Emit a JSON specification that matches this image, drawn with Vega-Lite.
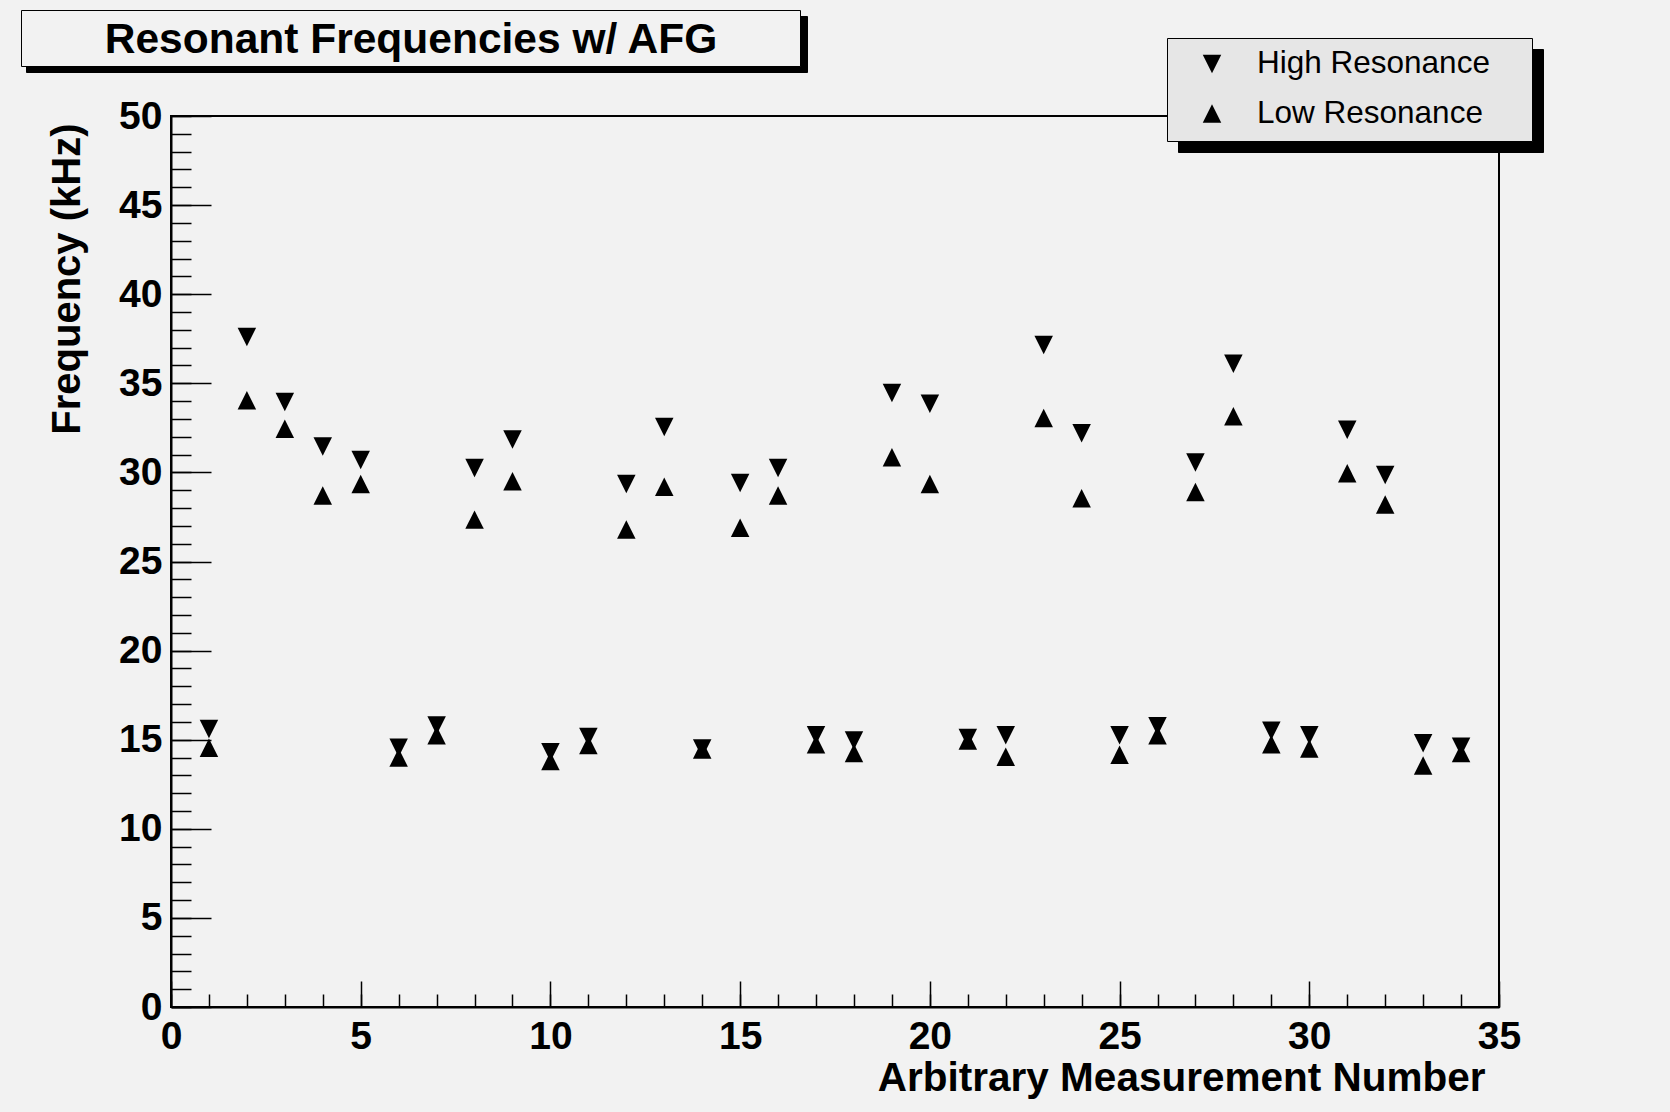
{
  "$schema": "https://vega.github.io/schema/vega-lite/v6.json",
  "width": 1328,
  "height": 891,
  "autosize": {"type": "none"},
  "padding": {"left": 171, "top": 116, "right": 171, "bottom": 105},
  "background": "#f2f2f2",
  "config": {
    "font": "Liberation Sans",
    "view": {"stroke": "black", "strokeWidth": 2, "fill": "#f2f2f2"}
  },
  "data": {
    "values": [
      {"n": 1, "series": "High Resonance", "freq": 15.6}, {"n": 1, "series": "Low Resonance", "freq": 14.55},
      {"n": 2, "series": "High Resonance", "freq": 37.6}, {"n": 2, "series": "Low Resonance", "freq": 34.05},
      {"n": 3, "series": "High Resonance", "freq": 33.95}, {"n": 3, "series": "Low Resonance", "freq": 32.45},
      {"n": 4, "series": "High Resonance", "freq": 31.45}, {"n": 4, "series": "Low Resonance", "freq": 28.7},
      {"n": 5, "series": "High Resonance", "freq": 30.7}, {"n": 5, "series": "Low Resonance", "freq": 29.35},
      {"n": 6, "series": "High Resonance", "freq": 14.55}, {"n": 6, "series": "Low Resonance", "freq": 14.0},
      {"n": 7, "series": "High Resonance", "freq": 15.8}, {"n": 7, "series": "Low Resonance", "freq": 15.25},
      {"n": 8, "series": "High Resonance", "freq": 30.25}, {"n": 8, "series": "Low Resonance", "freq": 27.35},
      {"n": 9, "series": "High Resonance", "freq": 31.85}, {"n": 9, "series": "Low Resonance", "freq": 29.5},
      {"n": 10, "series": "High Resonance", "freq": 14.3}, {"n": 10, "series": "Low Resonance", "freq": 13.8},
      {"n": 11, "series": "High Resonance", "freq": 15.15}, {"n": 11, "series": "Low Resonance", "freq": 14.7},
      {"n": 12, "series": "High Resonance", "freq": 29.35}, {"n": 12, "series": "Low Resonance", "freq": 26.8},
      {"n": 13, "series": "High Resonance", "freq": 32.55}, {"n": 13, "series": "Low Resonance", "freq": 29.2},
      {"n": 14, "series": "High Resonance", "freq": 14.5}, {"n": 14, "series": "Low Resonance", "freq": 14.45},
      {"n": 15, "series": "High Resonance", "freq": 29.4}, {"n": 15, "series": "Low Resonance", "freq": 26.9},
      {"n": 16, "series": "High Resonance", "freq": 30.25}, {"n": 16, "series": "Low Resonance", "freq": 28.7},
      {"n": 17, "series": "High Resonance", "freq": 15.25}, {"n": 17, "series": "Low Resonance", "freq": 14.75},
      {"n": 18, "series": "High Resonance", "freq": 14.95}, {"n": 18, "series": "Low Resonance", "freq": 14.25},
      {"n": 19, "series": "High Resonance", "freq": 34.45}, {"n": 19, "series": "Low Resonance", "freq": 30.85},
      {"n": 20, "series": "High Resonance", "freq": 33.85}, {"n": 20, "series": "Low Resonance", "freq": 29.35},
      {"n": 21, "series": "High Resonance", "freq": 15.1}, {"n": 21, "series": "Low Resonance", "freq": 14.95},
      {"n": 22, "series": "High Resonance", "freq": 15.25}, {"n": 22, "series": "Low Resonance", "freq": 14.05},
      {"n": 23, "series": "High Resonance", "freq": 37.15}, {"n": 23, "series": "Low Resonance", "freq": 33.05},
      {"n": 24, "series": "High Resonance", "freq": 32.2}, {"n": 24, "series": "Low Resonance", "freq": 28.55},
      {"n": 25, "series": "High Resonance", "freq": 15.25}, {"n": 25, "series": "Low Resonance", "freq": 14.15},
      {"n": 26, "series": "High Resonance", "freq": 15.75}, {"n": 26, "series": "Low Resonance", "freq": 15.25},
      {"n": 27, "series": "High Resonance", "freq": 30.55}, {"n": 27, "series": "Low Resonance", "freq": 28.9},
      {"n": 28, "series": "High Resonance", "freq": 36.1}, {"n": 28, "series": "Low Resonance", "freq": 33.15},
      {"n": 29, "series": "High Resonance", "freq": 15.5}, {"n": 29, "series": "Low Resonance", "freq": 14.75},
      {"n": 30, "series": "High Resonance", "freq": 15.25}, {"n": 30, "series": "Low Resonance", "freq": 14.5},
      {"n": 31, "series": "High Resonance", "freq": 32.4}, {"n": 31, "series": "Low Resonance", "freq": 29.95},
      {"n": 32, "series": "High Resonance", "freq": 29.85}, {"n": 32, "series": "Low Resonance", "freq": 28.2},
      {"n": 33, "series": "High Resonance", "freq": 14.8}, {"n": 33, "series": "Low Resonance", "freq": 13.55},
      {"n": 34, "series": "High Resonance", "freq": 14.6}, {"n": 34, "series": "Low Resonance", "freq": 14.25}
    ]
  },
  "layer": [
    {
      "mark": {"type": "point", "filled": true, "opacity": 0},
      "encoding": {
        "x": {
          "field": "n", "type": "quantitative",
          "scale": {"domain": [0, 35], "nice": false, "zero": false},
          "axis": {
            "orient": "bottom",
            "values": [0,1,2,3,4,5,6,7,8,9,10,11,12,13,14,15,16,17,18,19,20,21,22,23,24,25,26,27,28,29,30,31,32,33,34,35],
            "tickSize": -13, "tickWidth": 1.5, "tickColor": "black",
            "labels": false, "domain": false, "grid": false, "title": null
          }
        },
        "y": {
          "field": "freq", "type": "quantitative",
          "scale": {"domain": [0, 50], "nice": false, "zero": false},
          "axis": {
            "orient": "left",
            "values": [0,1,2,3,4,5,6,7,8,9,10,11,12,13,14,15,16,17,18,19,20,21,22,23,24,25,26,27,28,29,30,31,32,33,34,35,36,37,38,39,40,41,42,43,44,45,46,47,48,49,50],
            "tickSize": -20, "tickWidth": 1.5, "tickColor": "black",
            "labels": false, "domain": false, "grid": false, "title": null
          }
        },
        "shape": {
          "datum": "Resonant Frequencies w/ AFG", "type": "nominal",
          "legend": {
            "title": null, "orient": "none", "direction": "vertical",
            "legendX": -145, "legendY": -100,
            "fillColor": "black", "strokeColor": "black", "padding": 4,
            "labelExpr": "''", "labelFontSize": 1,
            "symbolSize": 2209, "symbolOpacity": 0, "symbolOffset": 720
          }
        }
      }
    },
    {
      "mark": {"type": "point", "filled": true, "opacity": 0},
      "encoding": {
        "x": {"field": "n", "type": "quantitative", "scale": {"domain": [0, 35], "nice": false, "zero": false}, "axis": null},
        "y": {"field": "freq", "type": "quantitative", "scale": {"domain": [0, 50], "nice": false, "zero": false}, "axis": null},
        "shape": {
          "datum": "Resonant Frequencies w/ AFG", "type": "nominal",
          "legend": {
            "title": "Resonant Frequencies w/ AFG",
            "titleOrient": "bottom", "titleAnchor": "middle", "titlePadding": 0, "titleLimit": 2000,
            "titleFont": "Liberation Sans", "titleFontWeight": "bold", "titleFontSize": 42.5, "titleColor": "black",
            "orient": "none", "direction": "vertical",
            "legendX": -150, "legendY": -106,
            "fillColor": "#f2f2f2", "strokeColor": "black", "padding": 4,
            "labelExpr": "''", "labelFontSize": 1,
            "symbolSize": 16, "symbolOpacity": 0, "symbolOffset": 761
          }
        }
      }
    },
    {
      "mark": {"type": "point", "filled": true, "opacity": 0},
      "encoding": {
        "x": {"field": "n", "type": "quantitative", "scale": {"domain": [0, 35], "nice": false, "zero": false}, "axis": null},
        "y": {"field": "freq", "type": "quantitative", "scale": {"domain": [0, 50], "nice": false, "zero": false}, "axis": null},
        "shape": {
          "field": "series", "type": "nominal",
          "scale": {"domain": ["High Resonance", "Low Resonance"], "range": ["M-1,-1L1,-1L0,1Z", "M-1,1L1,1L0,-1Z"]},
          "legend": {
            "title": null, "orient": "none", "direction": "vertical",
            "legendX": 1007, "legendY": -67,
            "fillColor": "black", "strokeColor": "black", "padding": 9.25, "rowPadding": 18.5,
            "labelExpr": "''", "labelFontSize": 1,
            "symbolSize": 992, "symbolOpacity": 0, "symbolOffset": 309
          }
        }
      }
    },
    {
      "mark": {"type": "point", "filled": true, "opacity": 0},
      "encoding": {
        "x": {"field": "n", "type": "quantitative", "scale": {"domain": [0, 35], "nice": false, "zero": false}, "axis": null},
        "y": {"field": "freq", "type": "quantitative", "scale": {"domain": [0, 50], "nice": false, "zero": false}, "axis": null},
        "shape": {
          "field": "series", "type": "nominal",
          "scale": {"domain": ["High Resonance", "Low Resonance"], "range": ["M-1,-1L1,-1L0,1Z", "M-1,1L1,1L0,-1Z"]},
          "legend": {
            "title": null, "orient": "none", "direction": "vertical",
            "legendX": 996, "legendY": -78,
            "fillColor": "#e6e6e6", "strokeColor": "black", "padding": 9.25, "rowPadding": 18.5,
            "labelExpr": "''", "labelFontSize": 1,
            "symbolSize": 992, "symbolOpacity": 0, "symbolOffset": 309
          }
        }
      }
    },
    {
      "mark": {"type": "point", "filled": true, "color": "black", "opacity": 1, "size": 342, "strokeWidth": 0},
      "encoding": {
        "x": {
          "field": "n", "type": "quantitative",
          "scale": {"domain": [0, 35], "nice": false, "zero": false},
          "axis": {
            "orient": "bottom",
            "values": [0, 5, 10, 15, 20, 25, 30, 35],
            "tickSize": -26, "tickWidth": 1.5, "tickColor": "black",
            "domain": true, "domainColor": "black", "domainWidth": 2, "grid": false,
            "labelFont": "Liberation Sans", "labelFontWeight": "bold", "labelFontSize": 39,
            "labelColor": "black", "labelPadding": 36, "labelFlush": false, "labelOverlap": false, "labelBound": false,
            "title": "Arbitrary Measurement Number",
            "titleFont": "Liberation Sans", "titleFontWeight": "bold", "titleFontSize": 40.5, "titleColor": "black",
            "titleX": 1314, "titleY": 83, "titleAlign": "right", "titleBaseline": "alphabetic", "titleAngle": 0
          }
        },
        "y": {
          "field": "freq", "type": "quantitative",
          "scale": {"domain": [0, 50], "nice": false, "zero": false},
          "axis": {
            "orient": "left",
            "values": [0, 5, 10, 15, 20, 25, 30, 35, 40, 45, 50],
            "tickSize": -40, "tickWidth": 1.5, "tickColor": "black",
            "domain": true, "domainColor": "black", "domainWidth": 2, "grid": false,
            "labelFont": "Liberation Sans", "labelFontWeight": "bold", "labelFontSize": 39,
            "labelColor": "black", "labelPadding": 49, "labelFlush": false, "labelOverlap": false, "labelBound": false,
            "title": "Frequency (kHz)",
            "titleFont": "Liberation Sans", "titleFontWeight": "bold", "titleFontSize": 40, "titleColor": "black",
            "titleX": -92, "titleY": 7, "titleAlign": "right", "titleBaseline": "alphabetic", "titleAngle": 270
          }
        },
        "shape": {
          "field": "series", "type": "nominal",
          "scale": {"domain": ["High Resonance", "Low Resonance"], "range": ["M-1,-1L1,-1L0,1Z", "M-1,1L1,1L0,-1Z"]},
          "legend": {
            "title": null, "orient": "none", "direction": "vertical",
            "legendX": 996, "legendY": -78,
            "padding": 10.25, "rowPadding": 16.5,
            "labelFont": "Liberation Sans", "labelFontSize": 31.5, "labelColor": "black",
            "labelOffset": 29.25, "labelLimit": 2000,
            "symbolSize": 342, "symbolOpacity": 1, "symbolFillColor": "black", "symbolStrokeWidth": 0, "symbolOffset": 19
          }
        }
      }
    }
  ],
  "resolve": {
    "scale": {"shape": "independent"},
    "axis": {"x": "independent", "y": "independent"},
    "legend": {"shape": "independent"}
  }
}
